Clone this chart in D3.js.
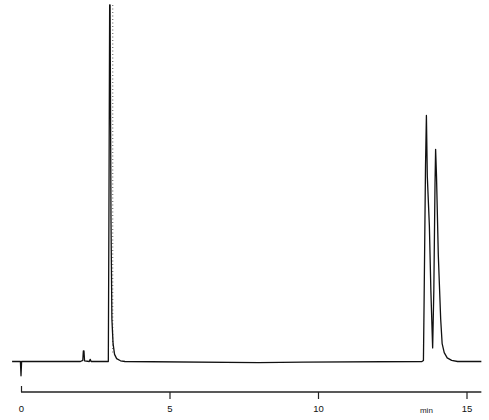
<!DOCTYPE html>
<html>
<head>
<meta charset="utf-8">
<script src="https://cdn.jsdelivr.net/npm/d3@7"></script>
<style>
  body { margin: 0; background: #fff; }
  .tick text { font-family: "Liberation Sans", Arial, sans-serif; font-size: 9.5px; fill: #111; }
  .unit { font-family: "Liberation Sans", Arial, sans-serif; font-size: 8px; fill: #222; }
</style>
</head>
<body>
<div id="chart"></div>
<script>
// retention time (min) and detector signal (% of full scale)
const times = [
  -0.3, -0.02, 0, 0.02, 2.0, 2.08, 2.1, 2.12, 2.14, 2.3, 2.33, 2.36,
  2.94, 2.96, 2.985, 3.0, 3.03, 3.06, 3.1, 3.15, 3.22, 3.35, 3.5,
  8.0, 9.5, 13.5, 13.55, 13.57, 13.62, 13.65, 13.68, 13.75, 13.8, 13.86,
  13.9, 13.94, 13.96, 13.99, 14.05, 14.13, 14.18, 14.25, 14.35, 14.5, 14.7, 15.5
];
const signal = [
  0, 0, -4, 0, 0, 0.3, 3, 3, 0.2, 0, 0.6, 0,
  0, 40, 100, 100, 40, 12, 5, 2, 0.8, 0.2, 0,
  -0.3, -0.2, 0, 0.3, 15, 55, 69, 52, 38, 20, 3.8,
  20, 50, 59.5, 52, 30, 12, 5, 2.5, 1, 0.3, 0, 0
];
const tickValues = [0, 5, 10, 15];
const markerTime = 3.09;

const width = 489, height = 420;

const svg = d3.select("#chart")
  .append("svg")
  .attr("width", width)
  .attr("height", height);

const x = d3.scaleLinear()
  .domain([0, 15])
  .range([21, 466.5]);

const y = d3.scaleLinear()
  .domain([0, 100])
  .range([361.5, 5]);

// dotted marker line next to the solvent peak
svg.append("line")
  .attr("x1", x(markerTime))
  .attr("x2", x(markerTime))
  .attr("y1", y(100))
  .attr("y2", y(2))
  .attr("stroke", "#555")
  .attr("stroke-width", 1)
  .attr("stroke-dasharray", "1,2.5");

const line = d3.line()
  .x(d => x(d[0]))
  .y(d => y(d[1]));

svg.append("path")
  .datum(times.map((t, i) => [t, signal[i]]))
  .attr("d", line)
  .attr("fill", "none")
  .attr("stroke", "#111")
  .attr("stroke-width", 1.3)
  .attr("stroke-linejoin", "round");

// time axis
const axisY = 392;
const axis = svg.append("g")
  .attr("transform", `translate(0, ${axisY})`)
  .call(d3.axisBottom(x)
    .tickValues(tickValues)
    .tickSize(7)
    .tickSizeOuter(0)
    .tickPadding(6));
axis.select(".domain")
  .attr("d", `M${x(0)},0H${x(15.5)}`)
  .attr("stroke", "#222")
  .attr("stroke-width", 1.4);
axis.selectAll(".tick line")
  .attr("stroke", "#222")
  .attr("stroke-width", 1.2)
  .attr("y1", d => d === 0 ? -6 : 0)
  .attr("y2", d => d === 0 ? 0 : 7);

svg.append("text")
  .attr("class", "unit")
  .attr("x", x(13.65))
  .attr("y", axisY + 21)
  .attr("text-anchor", "middle")
  .text("min");
</script>
</body>
</html>
